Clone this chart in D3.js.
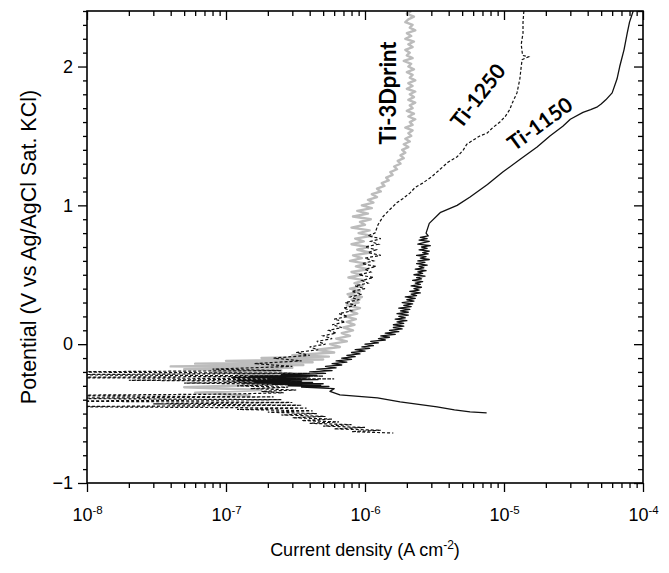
<!DOCTYPE html>
<html><head><meta charset="utf-8">
<script src="https://cdn.jsdelivr.net/npm/d3@7"></script>
<style>body{margin:0;background:#fff} svg{display:block}</style>
</head><body>
<svg id="c" width="669" height="573"></svg>
<script>
// ---- data: [potential (V), current density (A cm^-2)] ----
const xTickValues = [1e-8, 1e-7, 1e-6, 1e-5, 1e-4];
const xTickExponents = ["-8", "-7", "-6", "-5", "-4"];
const yTickValues = [-1, 0, 1, 2];
const seriesNames = ["Ti-3Dprint", "Ti-1250", "Ti-1150"];

const ti3dprint = [
[2.40,2.15e-6],[2.38,2.0e-6],[2.36,2.25e-6],[2.34,2.05e-6],[2.32,1.95e-6],[2.30,2.2e-6],[2.28,2.1e-6],[2.26,2.3e-6],
[2.24,2.0e-6],[2.22,2.15e-6],[2.20,1.95e-6],[2.18,2.25e-6],[2.16,2.05e-6],[2.14,2.2e-6],[2.12,1.95e-6],[2.10,2.1e-6],
[2.08,2.0e-6],[2.06,2.2e-6],[2.04,1.9e-6],[2.02,2.15e-6],[2.00,2.05e-6],[1.98,2.25e-6],[1.96,2.0e-6],[1.94,2.2e-6],
[1.92,2.1e-6],[1.90,2.3e-6],[1.88,2.05e-6],[1.86,2.2e-6],[1.84,2.0e-6],[1.82,2.3e-6],[1.80,2.1e-6],[1.78,2.25e-6],
[1.76,2.05e-6],[1.74,2.3e-6],[1.72,2.1e-6],[1.70,2.2e-6],[1.68,2.0e-6],[1.66,2.25e-6],[1.64,2.05e-6],[1.62,2.3e-6],
[1.60,2.1e-6],[1.58,2.2e-6],[1.56,1.95e-6],[1.54,2.2e-6],[1.52,2.05e-6],[1.50,2.15e-6],[1.48,1.95e-6],[1.46,2.1e-6],
[1.44,1.9e-6],[1.42,2.05e-6],[1.40,1.85e-6],[1.38,1.95e-6],[1.36,1.8e-6],[1.34,1.9e-6],[1.32,1.72e-6],[1.30,1.8e-6],
[1.28,1.62e-6],[1.26,1.7e-6],[1.24,1.52e-6],[1.22,1.58e-6],[1.20,1.42e-6],[1.18,1.48e-6],[1.16,1.32e-6],[1.14,1.38e-6],
[1.12,1.22e-6],[1.10,1.3e-6],[1.08,1.12e-6],[1.06,1.22e-6],[1.04,1.05e-6],[1.02,1.15e-6],
[1.00,9.5e-7],[0.98,1.12e-6],[0.96,8.8e-7],[0.94,1.05e-6],[0.92,8.2e-7],[0.90,1.1e-6],[0.88,9.2e-7],[0.86,1.0e-6],
[0.84,8.0e-7],[0.82,1.08e-6],[0.80,9.0e-7],[0.78,1.12e-6],[0.76,8.5e-7],[0.74,9.8e-7],[0.72,8.0e-7],[0.70,1.05e-6],
[0.68,8.8e-7],[0.66,1.1e-6],[0.64,8.2e-7],[0.62,9.5e-7],[0.60,7.8e-7],[0.58,1.02e-6],[0.56,8.6e-7],[0.54,1.05e-6],
[0.52,8.0e-7],[0.50,9.5e-7],[0.48,7.6e-7],[0.46,1.0e-6],[0.44,8.4e-7],[0.42,9.6e-7],[0.40,7.8e-7],[0.38,9.2e-7],
[0.36,7.5e-7],[0.34,9.5e-7],[0.32,8.0e-7],[0.30,9.0e-7],[0.28,7.4e-7],[0.26,9.2e-7],[0.24,7.8e-7],[0.22,8.8e-7],
[0.20,7.2e-7],[0.18,8.6e-7],[0.16,7.4e-7],[0.14,8.4e-7],[0.12,7.0e-7],[0.10,8.2e-7],[0.08,6.8e-7],[0.06,7.8e-7],
[0.04,6.2e-7],[0.02,7.4e-7],[0.00,5.6e-7],[-0.02,6.6e-7],[-0.04,4.5e-7],[-0.06,6.0e-7],[-0.08,3.0e-7],[-0.09,5.5e-7],
[-0.10,1.8e-7],[-0.11,5.0e-7],[-0.12,1.0e-7],[-0.13,4.2e-7],[-0.14,6e-8],[-0.15,3.6e-7],[-0.16,4e-8],[-0.17,3.0e-7],
[-0.18,5e-8],[-0.19,2.5e-7],[-0.20,8e-8],[-0.21,3.0e-7],[-0.22,1.2e-7],[-0.23,3.5e-7],[-0.24,1.5e-7],[-0.25,2.8e-7],
[-0.27,1.0e-7],[-0.29,2.2e-7],[-0.31,5e-8],[-0.33,1.8e-7],[-0.35,6e-8],[-0.37,1.5e-7]
];

const ti1250 = [
[2.40,1.39e-5],[2.32,1.37e-5],[2.24,1.37e-5],[2.16,1.33e-5],[2.08,1.36e-5],[2.07,1.5e-5],[2.05,1.35e-5],[2.00,1.33e-5],
[1.91,1.30e-5],[1.81,1.24e-5],[1.74,1.15e-5],[1.69,1.10e-5],[1.64,1.02e-5],[1.60,9.35e-6],[1.56,8.3e-6],[1.52,7.55e-6],
[1.50,6.7e-6],[1.47,6.0e-6],[1.44,5.4e-6],[1.40,5.1e-6],[1.35,4.6e-6],[1.31,3.95e-6],[1.26,3.47e-6],[1.21,3.05e-6],
[1.16,2.6e-6],[1.13,2.3e-6],[1.09,2.11e-6],[1.05,1.88e-6],[1.02,1.7e-6],[0.97,1.51e-6],[0.92,1.35e-6],[0.86,1.24e-6],
[0.80,1.18e-6],[0.78,1.05e-6],[0.76,1.3e-6],[0.74,1.1e-6],[0.72,1.25e-6],[0.70,1.0e-6],[0.68,1.2e-6],[0.66,1.05e-6],
[0.64,1.3e-6],[0.62,1.0e-6],[0.60,1.15e-6],[0.58,9.5e-7],[0.56,1.2e-6],[0.54,1.0e-6],[0.52,1.1e-6],[0.50,9.0e-7],
[0.48,1.15e-6],[0.46,9.5e-7],[0.44,1.05e-6],[0.42,8.5e-7],[0.40,1.0e-6],[0.38,8.0e-7],[0.36,9.5e-7],[0.34,7.8e-7],
[0.32,9.0e-7],[0.30,7.2e-7],[0.28,8.6e-7],[0.26,7.0e-7],[0.24,8.0e-7],[0.22,6.5e-7],[0.20,7.5e-7],[0.18,6.0e-7],
[0.16,7.2e-7],[0.14,5.8e-7],[0.12,6.8e-7],[0.10,5.5e-7],[0.08,6.2e-7],[0.06,5.0e-7],[0.04,5.8e-7],[0.02,4.5e-7],
[0.00,5.2e-7],[-0.02,4.0e-7],[-0.04,4.6e-7],[-0.06,3.2e-7],[-0.08,4.0e-7],[-0.10,2.2e-7],[-0.12,3.5e-7],[-0.14,1.6e-7],
[-0.16,3.0e-7],[-0.18,8e-8],[-0.19,2.5e-7],[-0.20,5e-9],[-0.21,4.0e-7],[-0.22,5e-9],[-0.23,5.0e-7],[-0.24,3e-9],
[-0.25,6.0e-7],[-0.26,2e-8],[-0.27,3.5e-7],[-0.28,5e-8],[-0.29,3.0e-7],[-0.30,1.2e-7],[-0.31,2.8e-7],[-0.32,1.5e-7],
[-0.33,3.2e-7],[-0.34,1.8e-7],[-0.35,2.6e-7],[-0.36,1.0e-7],[-0.37,3e-9],[-0.38,2.2e-7],[-0.39,4e-9],[-0.40,2.5e-7],
[-0.41,5e-9],[-0.42,3.0e-7],[-0.43,3e-8],[-0.44,3.5e-7],[-0.45,5e-9],[-0.46,3.8e-7],[-0.47,1.2e-7],[-0.48,4.2e-7],
[-0.49,2.0e-7],[-0.50,4.5e-7],[-0.51,2.5e-7],[-0.52,5.2e-7],[-0.53,3.0e-7],[-0.54,5.8e-7],[-0.55,3.5e-7],[-0.56,6.5e-7],
[-0.57,4.0e-7],[-0.58,8.0e-7],[-0.59,5.0e-7],[-0.60,1.0e-6],[-0.61,6.0e-7],[-0.62,1.3e-6],[-0.63,8.0e-7],[-0.64,1.6e-6]
];

const ti1150 = [
[2.40,8.5e-5],[2.32,8.0e-5],[2.24,7.7e-5],[2.12,7.3e-5],[2.00,6.8e-5],[1.91,6.5e-5],[1.81,6.0e-5],[1.76,5.4e-5],
[1.73,5.0e-5],[1.71,4.7e-5],[1.69,4.2e-5],[1.67,3.7e-5],[1.62,3.0e-5],[1.57,2.65e-5],[1.50,2.14e-5],[1.42,1.73e-5],
[1.33,1.3e-5],[1.24,9.8e-6],[1.15,7.6e-6],[1.06,5.7e-6],[1.00,4.6e-6],[0.95,3.5e-6],[0.87,2.9e-6],[0.80,2.75e-6],
[0.78,2.85e-6],[0.77,2.5e-6],[0.76,2.8e-6],[0.75,2.45e-6],[0.74,2.9e-6],[0.73,2.6e-6],[0.72,2.4e-6],[0.71,2.95e-6],
[0.70,2.55e-6],[0.69,2.8e-6],[0.68,2.45e-6],[0.67,2.9e-6],[0.66,2.6e-6],[0.65,2.85e-6],[0.64,2.35e-6],[0.63,2.75e-6],
[0.62,2.5e-6],[0.61,2.9e-6],[0.60,2.4e-6],[0.59,2.7e-6],[0.58,2.35e-6],[0.57,2.8e-6],[0.56,2.45e-6],[0.55,2.65e-6],
[0.54,2.3e-6],[0.53,2.75e-6],[0.52,2.4e-6],[0.51,2.6e-6],[0.50,2.25e-6],[0.49,2.7e-6],[0.48,2.35e-6],[0.47,2.55e-6],
[0.46,2.2e-6],[0.45,2.6e-6],[0.44,2.3e-6],[0.43,2.5e-6],[0.42,2.15e-6],[0.41,2.55e-6],[0.40,2.25e-6],[0.39,2.45e-6],
[0.38,2.1e-6],[0.37,2.5e-6],[0.36,2.15e-6],[0.35,2.35e-6],[0.34,1.95e-6],[0.33,2.3e-6],[0.32,2.0e-6],[0.31,2.25e-6],
[0.30,1.85e-6],[0.29,2.2e-6],[0.28,1.9e-6],[0.27,2.15e-6],[0.26,1.75e-6],[0.25,2.1e-6],[0.24,1.8e-6],[0.23,2.05e-6],
[0.22,1.7e-6],[0.21,2.05e-6],[0.20,1.75e-6],[0.19,1.95e-6],[0.18,1.65e-6],[0.17,2.0e-6],[0.16,1.7e-6],[0.15,1.9e-6],
[0.14,1.6e-6],[0.13,1.9e-6],[0.12,1.6e-6],[0.11,1.85e-6],[0.10,1.5e-6],[0.09,1.75e-6],[0.08,1.4e-6],[0.07,1.65e-6],
[0.06,1.3e-6],[0.05,1.5e-6],[0.04,1.25e-6],[0.03,1.4e-6],[0.02,1.1e-6],[0.01,1.25e-6],[0.00,1.0e-6],[-0.01,1.15e-6],
[-0.02,9.5e-7],[-0.03,1.08e-6],[-0.04,8.5e-7],[-0.05,1.0e-6],[-0.06,8.0e-7],[-0.07,9.2e-7],[-0.08,7.4e-7],[-0.09,8.5e-7],
[-0.10,6.8e-7],[-0.11,8.0e-7],[-0.12,6.2e-7],[-0.13,7.4e-7],[-0.14,5.8e-7],[-0.15,6.8e-7],[-0.16,5.2e-7],[-0.17,6.2e-7],
[-0.18,4.5e-7],[-0.19,5.8e-7],[-0.20,4.0e-7],[-0.21,5.2e-7],[-0.22,2.5e-7],[-0.225,4.5e-7],[-0.23,1.5e-7],[-0.235,4.0e-7],
[-0.24,1.1e-7],[-0.245,3.8e-7],[-0.25,2.0e-7],[-0.255,4.6e-7],[-0.26,1.2e-7],[-0.265,3.5e-7],[-0.27,1.6e-7],[-0.275,4.2e-7],
[-0.28,1.3e-7],[-0.285,5.0e-7],[-0.29,2.2e-7],[-0.295,4.8e-7],[-0.30,2.8e-7],[-0.305,5.5e-7],[-0.31,3.5e-7],[-0.32,6.0e-7],
[-0.34,5.6e-7],[-0.365,6.6e-7],[-0.387,1.23e-6],[-0.416,1.79e-6],[-0.452,3.3e-6],[-0.474,4.4e-6],[-0.488,5.7e-6],[-0.495,7.5e-6]
];

// ---- layout ----
const L = 87, R = 643, T = 11, B = 483;
const svg = d3.select("#c");
const x = d3.scaleLog().domain([1e-8, 1e-4]).range([L, R]);
const y = d3.scaleLinear().domain([-1, 2.4]).range([B, T]);
const FONT = "'Liberation Sans', Arial, sans-serif";

svg.append("defs").append("clipPath").attr("id", "clip")
  .append("rect").attr("x", L).attr("y", T).attr("width", R - L).attr("height", B - T);

// curves
const line = d3.line().x(d => x(d[1])).y(d => y(d[0]));
const g = svg.append("g").attr("clip-path", "url(#clip)");
g.append("path").datum(ti3dprint).attr("d", line)
  .attr("fill", "none").attr("stroke", "#bcbcbc").attr("stroke-width", 2.4).attr("stroke-linejoin", "round");
g.append("path").datum(ti1250).attr("d", line)
  .attr("fill", "none").attr("stroke", "#111").attr("stroke-width", 1.2).attr("stroke-dasharray", "3,2");
g.append("path").datum(ti1150).attr("d", line)
  .attr("fill", "none").attr("stroke", "#111").attr("stroke-width", 1.3).attr("stroke-linejoin", "round");

// ticks
const minorX = [];
for (let k = -8; k < -4; k++) for (let j = 2; j <= 9; j++) minorX.push(j * Math.pow(10, k));
const minorY = d3.range(-10, 25).map(v => v / 10).filter(v => !yTickValues.includes(v));

function styleAxis(sel) {
  sel.select(".domain").remove();
  sel.selectAll("line").attr("stroke", "#000").attr("stroke-width", 1.3);
}
svg.append("g").attr("transform", `translate(0,${B})`)
  .call(d3.axisBottom(x).tickValues(minorX).tickSize(5).tickFormat(() => "")).call(styleAxis);
svg.append("g").attr("transform", `translate(0,${T})`)
  .call(d3.axisTop(x).tickValues(minorX).tickSize(-5).tickFormat(() => "")).call(styleAxis);
svg.append("g").attr("transform", `translate(0,${T})`)
  .call(d3.axisTop(x).tickValues(xTickValues).tickSize(-9).tickFormat(() => "")).call(styleAxis);
const xMaj = svg.append("g").attr("transform", `translate(0,${B})`)
  .call(d3.axisBottom(x).tickValues(xTickValues).tickSize(9).tickFormat(() => "")).call(styleAxis);
xMaj.selectAll(".tick text").remove();
xMaj.selectAll(".tick").each(function (d, i) {
  const t = d3.select(this).append("text").attr("y", 38).attr("text-anchor", "middle")
    .attr("fill", "#000").style("font-family", FONT).style("font-size", "18px");
  t.append("tspan").text("10");
  t.append("tspan").attr("dy", -7).style("font-size", "11.5px").text(xTickExponents[i]);
});

svg.append("g").attr("transform", `translate(${L},0)`)
  .call(d3.axisLeft(y).tickValues(minorY).tickSize(4).tickFormat(() => "")).call(styleAxis);
svg.append("g").attr("transform", `translate(${R},0)`)
  .call(d3.axisRight(y).tickValues(minorY).tickSize(-5).tickFormat(() => "")).call(styleAxis);
svg.append("g").attr("transform", `translate(${R},0)`)
  .call(d3.axisRight(y).tickValues(yTickValues).tickSize(-9).tickFormat(() => "")).call(styleAxis);
const yMaj = svg.append("g").attr("transform", `translate(${L},0)`)
  .call(d3.axisLeft(y).tickValues(yTickValues).tickSize(9).tickPadding(5).tickFormat(d3.format("d"))).call(styleAxis);
yMaj.selectAll("text").attr("fill", "#000").style("font-family", FONT).style("font-size", "18px");

// frame
svg.append("rect").attr("x", L).attr("y", T).attr("width", R - L).attr("height", B - T)
  .attr("fill", "none").attr("stroke", "#000").attr("stroke-width", 1.6);

// axis titles
const xt = svg.append("text").attr("x", (L + R) / 2).attr("y", 556).attr("text-anchor", "middle")
  .style("font-family", FONT).style("font-size", "18px").attr("fill", "#000");
xt.append("tspan").text("Current density (A cm");
xt.append("tspan").attr("dy", -7).style("font-size", "12px").text("-2");
xt.append("tspan").attr("dy", 7).text(")");
svg.append("text").attr("transform", `translate(36,${(T + B) / 2}) rotate(-90)`).attr("text-anchor", "middle")
  .style("font-family", FONT).style("font-size", "21.5px").attr("fill", "#000")
  .text("Potential (V vs Ag/AgCl Sat. KCl)");

// curve labels
const LFONT = "Lato, 'Open Sans', sans-serif";
const labels = [
  { name: seriesNames[0], cx: 388, cy: 93, rot: -90, size: 22 },
  { name: seriesNames[1], cx: 478, cy: 96, rot: -52, size: 21 },
  { name: seriesNames[2], cx: 540, cy: 124, rot: -36, size: 21 }
];
labels.forEach(l => {
  svg.append("text").attr("transform", `translate(${l.cx},${l.cy}) rotate(${l.rot})`)
    .attr("text-anchor", "middle").attr("dy", "0.35em")
    .style("font-family", LFONT).style("font-weight", "bold").style("font-size", l.size + "px")
    .attr("fill", "#000").text(l.name);
});
</script>
</body></html>
